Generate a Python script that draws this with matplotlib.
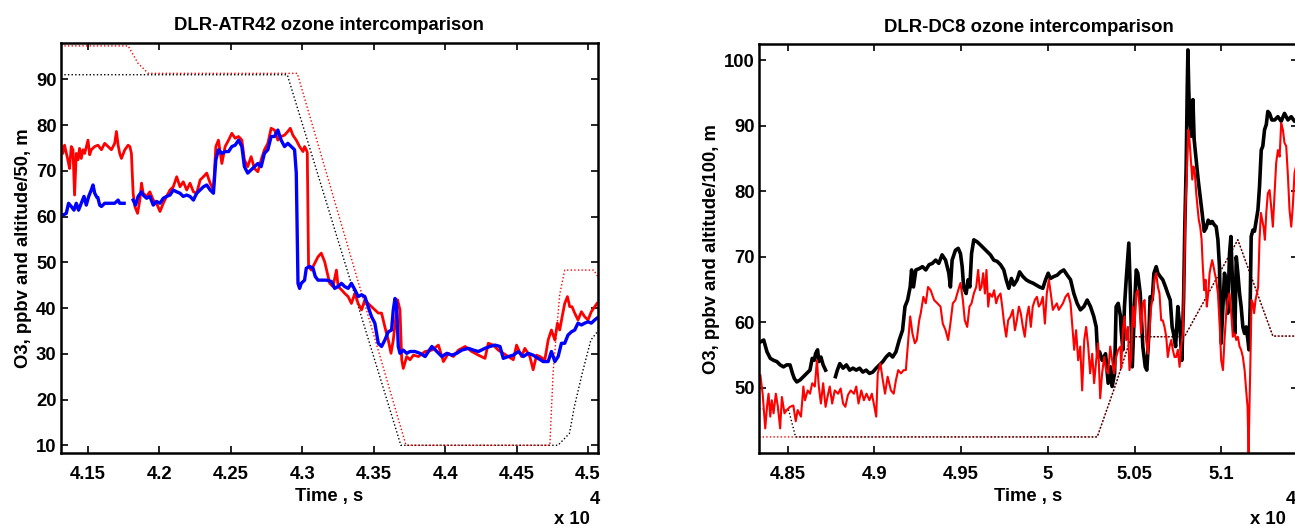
#!/usr/bin/env python3

import numpy as np
import matplotlib
matplotlib.use("Agg")
import matplotlib.pyplot as plt

nan = float("nan")

# ---- DLR-ATR42 panel (time in units of 1e4 s) ----
atr_red_t = [4.1313, 4.1324, 4.1336, 4.1359, 4.1371, 4.1383, 4.1395, 4.1406, 4.1418, 4.1430,
             4.1441, 4.1453, 4.1465, 4.1477, 4.1500, 4.1512, 4.1523, 4.1547, 4.1570, 4.1594,
             4.1617, 4.1641, 4.1664, 4.1687, 4.1699, 4.1711, 4.1722, 4.1734, 4.1758, 4.1781,
             4.1793, 4.1804, 4.1816, 4.1828, 4.1847, 4.1863, 4.1875, 4.1886, 4.1910, 4.1933,
             4.1957, 4.1980, 4.2004, 4.2027, 4.2050, 4.2074, 4.2097, 4.2121, 4.2144, 4.2167,
             4.2191, 4.2214, 4.2238, 4.2261, 4.2285, 4.2308, 4.2331, 4.2355, 4.2378, 4.2395,
             4.2413, 4.2437, 4.2460, 4.2484, 4.2507, 4.2530, 4.2554, 4.2577,
             4.2595, 4.2618, 4.2642, 4.2665, 4.2689, 4.2712, 4.2735, 4.2759, 4.2782, 4.2806,
             4.2829, 4.2852, 4.2876, 4.2899, 4.2916, 4.2934, 4.2958, 4.2981, 4.3005, 4.3016,
             4.3028, 4.3035, 4.3044, 4.3063, 4.3087, 4.3110, 4.3133, 4.3157, 4.3176, 4.3192,
             4.3215, 4.3239, 4.3251, 4.3274, 4.3297, 4.3321, 4.3344, 4.3368, 4.3391, 4.3415,
             4.3438, 4.3461, 4.3485, 4.3508, 4.3532, 4.3555, 4.3578, 4.3602, 4.3621, 4.3637,
             4.3653, 4.3667, 4.3684, 4.3696, 4.3707, 4.3731, 4.3754, 4.3778, 4.3813,
             4.3860, 4.3907, 4.3953, 4.3988, 4.4023, 4.4058, 4.4093, 4.4140, 4.4186, 4.4233,
             4.4279, 4.4302, 4.4337, 4.4372, 4.4407, 4.4442, 4.4477, 4.4500, 4.4535, 4.4558,
             4.4593, 4.4616, 4.4640, 4.4663, 4.4698, 4.4721, 4.4744, 4.4768, 4.4786, 4.4802,
             4.4819, 4.4837, 4.4856, 4.4872, 4.4888, 4.4907, 4.4930, 4.4954, 4.4977, 4.5000,
             4.5023, 4.5047, 4.5063]
atr_red_o3 = [75.3, 73.8, 75.6, 72.4, 70.5, 75.3, 74.6, 64.7, 73.8, 72.4,
              74.9, 72.7, 74.6, 73.8, 76.7, 73.5, 74.6, 75.3, 75.6, 74.6,
              76.0, 75.3, 74.6, 76.0, 78.6, 75.6, 73.8, 72.7, 74.6, 75.6,
              75.3, 73.8, 65.1, 62.2, 60.7, 63.6, 67.3, 65.1, 64.4, 65.4,
              63.6, 62.9, 61.1, 62.9, 64.4, 65.8, 66.5, 68.7, 66.5, 67.6,
              65.8, 67.3, 65.4, 65.1, 68.0, 68.7, 69.5, 67.3, 65.8, 75.3,
              76.7, 71.6, 75.3, 76.7, 78.2, 77.1, 77.5, 76.7,
              72.4, 70.9, 73.1, 70.5, 69.8, 72.4, 74.6, 76.0, 79.3, 78.9,
              76.7, 77.5, 77.8, 78.6, 79.3, 77.8, 76.7, 75.3, 74.2, 75.3,
              74.6, 74.0, 49.1, 48.3, 49.8, 51.2, 52.0, 50.1, 47.6, 45.4,
              44.7, 48.3, 44.7, 44.0, 43.2, 42.5, 41.0, 43.2, 41.0, 39.6,
              41.8, 41.0, 40.3, 39.6, 38.9, 38.9, 35.9, 33.0, 30.1, 33.0,
              37.4, 41.8, 39.6, 28.7, 26.8, 29.4, 28.7, 29.7, 29.4,
              30.5, 30.8, 31.9, 28.3, 30.1, 29.4, 30.8, 31.6, 30.5, 29.7,
              29.0, 32.3, 31.9, 30.8, 30.1, 29.4, 28.7, 31.9, 29.4, 31.2,
              29.4, 26.5, 29.7, 29.4, 28.7, 33.0, 35.2, 33.0, 36.7, 35.2,
              38.1, 41.0, 42.5, 40.3, 40.3, 38.9, 37.4, 39.2, 38.1, 37.4,
              39.2, 40.3, 41.0]

atr_blue_t = [4.1310, 4.1324, 4.1348, 4.1364, 4.1383, 4.1402, 4.1418, 4.1434, 4.1453, 4.1472,
              4.1488, 4.1505, 4.1523, 4.1535, 4.1547, 4.1559, 4.1564,
              4.1570, 4.1582, 4.1594, 4.1617, 4.1641, 4.1664, 4.1687, 4.1711, 4.1722, 4.1753,
              4.1780,
              4.1816, 4.1833, 4.1851, 4.1875, 4.1886, 4.1910, 4.1933, 4.1957, 4.1980, 4.2004,
              4.2027, 4.2050, 4.2074, 4.2097, 4.2121, 4.2144, 4.2167, 4.2191, 4.2214, 4.2238,
              4.2261, 4.2285, 4.2308, 4.2331, 4.2355, 4.2378, 4.2395, 4.2413, 4.2437, 4.2460,
              4.2484, 4.2507, 4.2530, 4.2554, 4.2577,
              4.2595, 4.2618, 4.2642, 4.2665, 4.2689, 4.2712, 4.2735, 4.2759, 4.2782, 4.2806,
              4.2829, 4.2852, 4.2876, 4.2899, 4.2923, 4.2946, 4.2958, 4.2965, 4.2970, 4.2981,
              4.2993, 4.3016, 4.3028, 4.3052, 4.3075, 4.3091, 4.3110, 4.3133, 4.3169, 4.3204,
              4.3227, 4.3251, 4.3274, 4.3297, 4.3321, 4.3344, 4.3368, 4.3391, 4.3415, 4.3438,
              4.3461, 4.3485, 4.3508, 4.3532, 4.3555, 4.3578, 4.3602, 4.3625, 4.3637, 4.3649,
              4.3660, 4.3672, 4.3684, 4.3707, 4.3731, 4.3754, 4.3789, 4.3824,
              4.3860, 4.3907, 4.3942, 4.3977, 4.4012, 4.4047, 4.4081, 4.4116, 4.4163, 4.4198,
              4.4233, 4.4279, 4.4314, 4.4349, 4.4384, 4.4407, 4.4442, 4.4477, 4.4512, 4.4547,
              4.4582, 4.4616, 4.4651, 4.4686, 4.4721, 4.4744, 4.4768, 4.4791, 4.4814, 4.4837,
              4.4860, 4.4884, 4.4907, 4.4930, 4.4954, 4.4977, 4.5000, 4.5023, 4.5047, 4.5063]
atr_blue_o3 = [60.3, 60.3, 60.7, 62.9, 62.2, 61.4, 62.9, 61.4, 62.9, 64.4,
               62.5, 64.4, 65.8, 66.9, 65.1, 64.4, nan,
               64.0, 62.5, 62.2, 62.9, 62.9, 62.9, 62.9, 63.6, 62.9, 62.9,
               nan,
               63.6, 62.5, 64.4, 65.4, 64.7, 64.0, 64.4, 62.5, 63.3, 62.9,
               64.0, 64.4, 64.7, 65.8, 65.4, 65.1, 64.4, 64.7, 64.4, 63.6,
               65.1, 65.8, 66.5, 66.9, 65.8, 65.1, 72.4, 74.6, 73.8, 74.2,
               74.2, 75.3, 75.6, 76.7, 75.3,
               70.9, 69.5, 70.2, 70.9, 71.6, 70.9, 73.8, 74.6, 77.5, 77.5,
               78.9, 76.7, 75.3, 76.0, 75.3, 74.6, 69.5, 55.0, 45.4, 44.3,
               45.4, 46.1, 48.7, 49.1, 48.7, 46.9, 46.1, 46.1, 46.1, 45.8,
               44.3, 44.7, 45.4, 44.7, 44.3, 45.4, 44.0, 42.5, 42.9, 42.5,
               40.3, 38.1, 36.7, 32.3, 31.6, 33.0, 34.8, 35.2, 39.6, 42.1,
               41.0, 31.6, 30.1, 30.8, 30.1, 30.5, 30.5, 30.1,
               29.4, 31.6, 30.5, 29.4, 30.1, 29.7, 30.1, 30.8, 31.2, 30.8,
               30.5, 31.2, 31.6, 31.9, 31.6, 29.0, 29.4, 29.7, 30.5, 29.4,
               30.1, 29.7, 29.0, 28.3, 28.3, 30.5, 28.3, 29.4, 32.3, 32.3,
               34.1, 34.8, 35.2, 36.7, 36.3, 36.7, 37.0, 36.7, 37.4, 37.8]

atr_alt_red_t = [4.1309, 4.1781, 4.1850, 4.1922, 4.2965, 4.3726, 4.4733, 4.4756, 4.4802,
                 4.4837, 4.5040, 4.5070]
atr_alt_red = [97.3, 97.3, 93.5, 91.3, 91.3, 10.0, 10.0, 26.0, 43.0,
               48.3, 48.3, 46.8]
atr_alt_black_t = [4.1309, 4.2895, 4.3690, 4.4790, 4.4870, 4.4905, 4.4960, 4.5020, 4.5070]
atr_alt_black = [91.0, 91.0, 10.0, 10.0, 12.6, 18.5, 25.8, 33.0, 35.0]

# ---- DLR-DC8 panel ----
dc8_black_t = [4.8342, 4.8361, 4.8380, 4.8399, 4.8418, 4.8437, 4.8456, 4.8475, 4.8494, 4.8513,
               4.8527, 4.8538, 4.8552, 4.8571, 4.8590, 4.8609, 4.8628, 4.8641, 4.8653, 4.8660,
               4.8672, 4.8679, 4.8691, 4.8704, 4.8718, 4.8745,
               4.8775, 4.8786, 4.8800, 4.8819, 4.8838, 4.8857, 4.8876, 4.8895, 4.8914, 4.8933,
               4.8952, 4.8971, 4.8990, 4.9010, 4.9029, 4.9048, 4.9067, 4.9086, 4.9105, 4.9124,
               4.9143, 4.9162, 4.9176, 4.9191, 4.9206, 4.9214, 4.9225, 4.9239, 4.9258, 4.9277,
               4.9296, 4.9315, 4.9334, 4.9353, 4.9371,
               4.9390, 4.9410, 4.9429, 4.9438, 4.9448, 4.9467, 4.9483, 4.9496, 4.9506, 4.9515,
               4.9529, 4.9540, 4.9550, 4.9560, 4.9573, 4.9592, 4.9612, 4.9631, 4.9650, 4.9669,
               4.9688, 4.9708, 4.9727, 4.9746, 4.9760, 4.9775, 4.9790, 4.9804, 4.9823, 4.9837,
               4.9856, 4.9875, 4.9894, 4.9913, 4.9933, 4.9952, 4.9971, 4.9987, 5.0002, 5.0015,
               5.0035, 5.0054, 5.0073, 5.0092, 5.0112, 5.0131, 5.0150, 5.0169, 5.0188, 5.0208,
               5.0227, 5.0246, 5.0265, 5.0279, 5.0288, 5.0298, 5.0313, 5.0333, 5.0348, 5.0362,
               5.0371, 5.0385, 5.0394, 5.0406, 5.0419,
               5.0423, 5.0433, 5.0442, 5.0452, 5.0467, 5.0475, 5.0487, 5.0500, 5.0510, 5.0519,
               5.0533, 5.0548, 5.0562, 5.0571, 5.0583, 5.0590, 5.0602, 5.0612, 5.0625, 5.0635,
               5.0648, 5.0663, 5.0679, 5.0692, 5.0706, 5.0717, 5.0725, 5.0737, 5.0750, 5.0763,
               5.0773, 5.0783, 5.0790, 5.0798, 5.0804, 5.0808, 5.0813, 5.0819, 5.0829, 5.0837,
               5.0844, 5.0856, 5.0867, 5.0879, 5.0890, 5.0902, 5.0913, 5.0925, 5.0937, 5.0948,
               5.0960, 5.0971, 5.0981, 5.0990, 5.1000, 5.1010, 5.1019, 5.1029, 5.1038, 5.1048,
               5.1056, 5.1063, 5.1071, 5.1079, 5.1087, 5.1096, 5.1106, 5.1115, 5.1125, 5.1135,
               5.1144, 5.1154, 5.1160, 5.1167, 5.1173, 5.1183, 5.1192, 5.1202, 5.1212, 5.1221,
               5.1231, 5.1240, 5.1250, 5.1260, 5.1269, 5.1279, 5.1292, 5.1308, 5.1327, 5.1346,
               5.1365, 5.1385, 5.1404, 5.1423, 5.1440]
dc8_black_o3 = [57.0, 57.3, 55.5, 54.5, 54.2, 54.0, 53.5, 53.2, 53.5, 53.5,
                52.2, 51.4, 50.9, 51.2, 51.7, 52.2, 52.7, 54.5, 54.2, 55.2,
                55.8, 54.0, 54.7, 53.5, 52.7, nan,
                51.7, 52.7, 53.7, 53.0, 53.5, 52.7, 53.0, 52.7, 53.0, 52.4,
                52.7, 52.2, 52.4, 53.0, 53.5, 54.0, 54.7, 55.2, 54.7, 55.5,
                57.3, 58.8, 62.4, 63.4, 65.4, 68.0, 65.4, 68.0, 68.2, 68.5,
                68.0, 68.8, 69.0, 69.5, 69.0,
                70.3, 69.5, 67.5, 65.4, 69.5, 71.0, 71.3, 70.5, 68.5, 65.2,
                64.4, 66.5, 65.4, 70.5, 72.6, 72.3, 71.8, 71.3, 70.8, 70.3,
                69.5, 69.3, 68.8, 68.0, 66.5, 65.2, 66.7, 65.7, 66.5, 67.7,
                67.0, 66.5, 66.2, 66.0, 65.7, 65.4, 65.2, 66.5, 67.5, 66.7,
                67.0, 67.2, 67.7, 68.0, 67.2, 66.5, 64.4, 62.9, 61.9, 62.4,
                63.4, 62.4, 60.9, 59.3, 54.7, 55.5, 54.2, 55.2, 50.7, 53.2,
                50.2, 52.2, 62.4, 62.9, 60.9,
                58.8, 55.8, 62.4, 66.5, 72.1, 65.4, 53.2, 62.4, 68.0, 67.5,
                64.4, 56.3, 53.2, 52.7, 58.3, 63.9, 63.4, 67.5, 68.5, 67.5,
                67.0, 66.5, 65.4, 64.4, 63.4, 59.3, 58.3, 56.3, 62.4, 58.8,
                54.2, 63.4, 74.6, 83.8, 95.5, 101.6, 95.5, 90.9, 88.4, 94.0,
                87.9, 84.8, 81.8, 79.2, 76.7, 73.9, 74.4, 75.6, 75.1, 75.4,
                74.9, 74.6, 72.6, 68.5, 56.8, 62.4, 67.5, 66.0, 61.4, 70.5,
                73.1, 67.5, 61.4, 58.3, 70.0, 67.5, 64.4, 62.4, 59.3, 58.3,
                59.3, 57.3, 55.8, 62.4, 73.1, 74.1, 73.9, 75.6, 77.2, 80.7,
                86.3, 86.9, 89.4, 90.2, 92.2, 91.9, 90.9, 90.9, 91.4, 90.7,
                91.9, 90.9, 91.4, 90.7, 90.9]

dc8_red_t = [4.8342, 4.8355, 4.8370, 4.8380, 4.8389, 4.8399, 4.8408, 4.8418, 4.8431, 4.8443,
             4.8456, 4.8466, 4.8481, 4.8494, 4.8513, 4.8532, 4.8546, 4.8557, 4.8576, 4.8590,
             4.8599, 4.8615, 4.8628, 4.8641, 4.8656, 4.8668, 4.8679, 4.8691, 4.8704, 4.8718,
             4.8729, 4.8742, 4.8756, 4.8771, 4.8790, 4.8805, 4.8819, 4.8832, 4.8847, 4.8863,
             4.8882, 4.8895, 4.8908, 4.8924, 4.8939, 4.8954, 4.8971, 4.8985, 4.8996, 4.9010,
             4.9019, 4.9034, 4.9048, 4.9061, 4.9076, 4.9095, 4.9111, 4.9124, 4.9137, 4.9153,
             4.9168, 4.9181, 4.9195, 4.9206, 4.9219, 4.9233, 4.9244, 4.9258, 4.9267, 4.9282,
             4.9296, 4.9309, 4.9324, 4.9344, 4.9363,
             4.9381, 4.9394, 4.9410, 4.9425, 4.9438, 4.9452, 4.9467, 4.9483, 4.9496, 4.9510,
             4.9521, 4.9535, 4.9548, 4.9560, 4.9573, 4.9587, 4.9598, 4.9608, 4.9617, 4.9627,
             4.9637, 4.9646, 4.9656, 4.9665, 4.9679, 4.9690, 4.9702, 4.9713, 4.9727, 4.9737,
             4.9748, 4.9760, 4.9771, 4.9785, 4.9798, 4.9810, 4.9821, 4.9833, 4.9844, 4.9856,
             4.9867, 4.9879, 4.9890, 4.9902, 4.9913, 4.9925, 4.9937, 4.9948, 4.9960, 4.9971,
             4.9983, 4.9994, 5.0006, 5.0017, 5.0029, 5.0040, 5.0052, 5.0063, 5.0075, 5.0087,
             5.0102, 5.0117, 5.0131, 5.0140, 5.0152, 5.0163, 5.0175, 5.0187, 5.0198, 5.0210,
             5.0221, 5.0233, 5.0244, 5.0256, 5.0267, 5.0279, 5.0290, 5.0302, 5.0313, 5.0325,
             5.0336, 5.0348, 5.0360, 5.0371, 5.0383, 5.0394, 5.0406, 5.0419,
             5.0423, 5.0433, 5.0442, 5.0452, 5.0462, 5.0471, 5.0481, 5.0490, 5.0500, 5.0510,
             5.0519, 5.0529, 5.0538, 5.0548, 5.0558, 5.0567, 5.0577, 5.0587, 5.0596, 5.0606,
             5.0615, 5.0625, 5.0635, 5.0644, 5.0654, 5.0663, 5.0673, 5.0683, 5.0692, 5.0702,
             5.0712, 5.0721, 5.0731, 5.0740, 5.0750, 5.0760, 5.0769, 5.0779, 5.0787, 5.0794,
             5.0802, 5.0810, 5.0817, 5.0825, 5.0833, 5.0840, 5.0848, 5.0856, 5.0863, 5.0871,
             5.0879, 5.0887, 5.0894, 5.0902, 5.0910, 5.0917, 5.0925, 5.0933, 5.0940, 5.0948,
             5.0956, 5.0963, 5.0971, 5.0981, 5.0990, 5.1000, 5.1010, 5.1019, 5.1029, 5.1038,
             5.1048, 5.1058, 5.1067, 5.1077, 5.1087, 5.1096, 5.1106, 5.1115, 5.1125, 5.1135,
             5.1144, 5.1152, 5.1158, 5.1163, 5.1169, 5.1175, 5.1183, 5.1190, 5.1198, 5.1206,
             5.1213, 5.1221, 5.1229, 5.1237, 5.1244, 5.1252, 5.1260, 5.1269, 5.1279, 5.1288,
             5.1298, 5.1308, 5.1317, 5.1327, 5.1337, 5.1346, 5.1356, 5.1365, 5.1375, 5.1385,
             5.1394, 5.1404, 5.1413, 5.1423, 5.1440]
dc8_red_o3 = [51.9, 49.1, 43.8, 47.1, 49.1, 45.6, 48.1, 46.1, 49.1, 47.1,
              43.8, 48.6, 46.1, 46.6, 47.1, 47.3, 44.9, 46.6, 45.6, 50.2,
              48.1, 49.6, 49.1, 50.7, 50.2, 54.2, 50.2, 47.6, 50.7, 47.1,
              48.6, 50.2, 47.6, 49.6, 49.1, 49.9, 47.6, 47.1, 48.9, 49.6,
              49.1, 50.2, 47.6, 49.6, 48.1, 49.1, 48.1, 49.1, 47.6, 45.6,
              52.2, 53.7, 51.2, 49.1, 51.7, 49.6, 49.1, 51.2, 52.7, 52.2,
              52.7, 52.7, 57.3, 60.9, 58.3, 56.8, 57.3, 60.3, 61.4, 63.9,
              62.9, 65.4, 64.9, 63.4, 62.9,
              62.4, 59.8, 58.8, 57.3, 59.8, 62.9, 63.4, 64.9, 66.0, 63.4,
              60.3, 59.3, 62.4, 62.9, 64.4, 65.4, 68.0, 64.9, 65.4, 67.5,
              64.4, 68.0, 62.4, 64.4, 63.9, 64.9, 62.9, 63.9, 64.4, 62.4,
              59.8, 57.8, 60.3, 60.9, 61.9, 58.8, 60.3, 62.4, 61.4, 59.3,
              57.8, 60.9, 62.4, 59.3, 62.4, 63.4, 63.9, 62.4, 62.9, 63.9,
              59.8, 64.4, 66.5, 64.4, 61.9, 62.4, 62.9, 61.9, 62.4, 62.9,
              63.9, 64.4, 62.9, 59.8, 55.8, 58.8, 54.2, 56.3, 49.6, 57.3,
              59.3, 56.3, 52.2, 55.2, 50.7, 54.2, 56.8, 48.4, 52.2, 54.7,
              52.7, 52.2, 56.3, 54.2, 52.2, 54.7, 55.8, 56.3,
              53.0, 58.8, 60.9, 57.3, 59.3, 52.7, 54.7, 62.4, 59.3, 64.4,
              64.9, 62.4, 58.3, 62.9, 63.4, 57.3, 55.2, 58.8, 62.4, 63.9,
              66.5, 67.5, 65.4, 64.4, 60.3, 60.3, 59.3, 57.8, 54.7, 56.3,
              57.3, 55.8, 54.7, 54.7, 55.8, 53.2, 56.3, 58.3, 67.5, 77.7,
              82.8, 89.4, 87.9, 84.8, 81.8, 83.8, 82.8, 79.7, 77.7, 75.6,
              74.6, 72.6, 68.5, 64.9, 66.5, 62.4, 64.4, 67.5, 68.5, 69.5,
              68.5, 67.5, 66.5, 64.4, 60.3, 54.2, 52.7, 57.3, 61.4, 63.4,
              64.4, 61.4, 57.8, 58.3, 57.3, 57.8, 56.3, 55.8, 54.7, 52.7,
              49.6, 47.1, 40.0, 47.1, 54.7, 63.4, 62.9, 61.4, 63.4, 64.4,
              65.4, 72.6, 76.7, 75.6, 74.6, 72.6, 76.7, 79.7, 80.2, 77.7,
              74.6, 79.7, 84.3, 86.3, 85.3, 90.4, 89.4, 87.4, 86.9, 82.3,
              77.2, 74.6, 77.7, 82.8, 84.8]

dc8_alt_red_t = [4.8334, 5.0285, 5.0394, 5.0481, 5.0788, 5.1096, 5.1298, 5.1445]
dc8_alt_red = [42.5, 42.5, 50.7, 57.8, 57.8, 72.6, 57.9, 57.9]
dc8_alt_black_t = [4.8334, 4.8505, 4.8545, 5.0285, 5.0394, 5.0481, 5.0788, 5.1096, 5.1298, 5.1445]
dc8_alt_black = [46.8, 46.6, 42.5, 42.5, 50.7, 57.8, 57.8, 72.6, 57.9, 57.9]

atr_xticks = [4.15, 4.2, 4.25, 4.3, 4.35, 4.4, 4.45, 4.5]
atr_xlabels = ["4.15", "4.2", "4.25", "4.3", "4.35", "4.4", "4.45", "4.5"]
atr_yticks = [10, 20, 30, 40, 50, 60, 70, 80, 90]
dc8_xticks = [4.85, 4.9, 4.95, 5.0, 5.05, 5.1]
dc8_xlabels = ["4.85", "4.9", "4.95", "5", "5.05", "5.1"]
dc8_yticks = [50, 60, 70, 80, 90, 100]

FS = 13.3
plt.rcParams["font.family"] = ["Liberation Sans", "DejaVu Sans"]
plt.rcParams["font.weight"] = "bold"
plt.rcParams["font.size"] = FS

W, H = 1295, 527
fig = plt.figure(figsize=(W / 100, H / 100), dpi=100)

dot = (0, (1, 1.6))


def style_axes(ax, xticks, xlabels, yticks, title, ylabel):
    ax.set_xticks(xticks)
    ax.set_xticklabels(xlabels)
    ax.set_yticks(yticks)
    ax.tick_params(direction="in", length=5, width=1.2, top=True, right=True,
                   labelsize=FS)
    ax.tick_params(axis="x", pad=9)
    ax.tick_params(axis="y", pad=3)
    for s in ax.spines.values():
        s.set_linewidth(1.8)
    ax.set_title(title, fontsize=FS, fontweight="bold", pad=9)
    ax.set_xlabel("Time , s", fontweight="bold", labelpad=4)
    ax.set_ylabel(ylabel, fontweight="bold", labelpad=3)


# left panel
ax1 = fig.add_axes([60.7 / W, 1 - 453.3 / H, 537.3 / W, 410.6 / H])
ax1.plot(atr_alt_black_t, atr_alt_black, color="black", lw=1.0, ls=dot)
ax1.plot(atr_alt_red_t, atr_alt_red, color="red", lw=1.0, ls=dot)
ax1.plot(atr_red_t, atr_red_o3, color="red", lw=2.0)
ax1.plot(atr_blue_t, atr_blue_o3, color="blue", lw=2.4)
ax1.set_xlim(4.1309, 4.507)
ax1.set_ylim(8.25, 98.0)
style_axes(ax1, atr_xticks, atr_xlabels, atr_yticks,
           "DLR-ATR42 ozone intercomparison", "O3, ppbv and altitude/50, m")

# right panel (runs slightly past the right edge of the figure)
ax2 = fig.add_axes([759 / W, 1 - 453.3 / H, 539 / W, 409.3 / H])
ax2.plot(dc8_alt_red_t, dc8_alt_red, color="red", lw=1.0, ls=dot)
ax2.plot(dc8_alt_black_t, dc8_alt_black, color="black", lw=1.0, ls=dot)
ax2.plot(dc8_black_t, dc8_black_o3, color="black", lw=2.6)
ax2.plot(dc8_red_t, dc8_red_o3, color="red", lw=1.5)
ax2.set_xlim(4.8334, 5.1443)
ax2.set_ylim(40.0, 102.5)
style_axes(ax2, dc8_xticks, dc8_xlabels, dc8_yticks,
           "DLR-DC8 ozone intercomparison", "O3, ppbv and altitude/100, m")

# MATLAB style "x 10^4" exponent below each x axis
for xr in (590, 1286):
    fig.text(xr / W, 1 - 519 / H, "x 10", ha="right", va="center",
             fontsize=FS, fontweight="bold")
    fig.text((xr + 5) / W, 1 - 500 / H, "4", ha="center", va="center",
             fontsize=FS, fontweight="bold")

fig.savefig("out.png", dpi=100)
